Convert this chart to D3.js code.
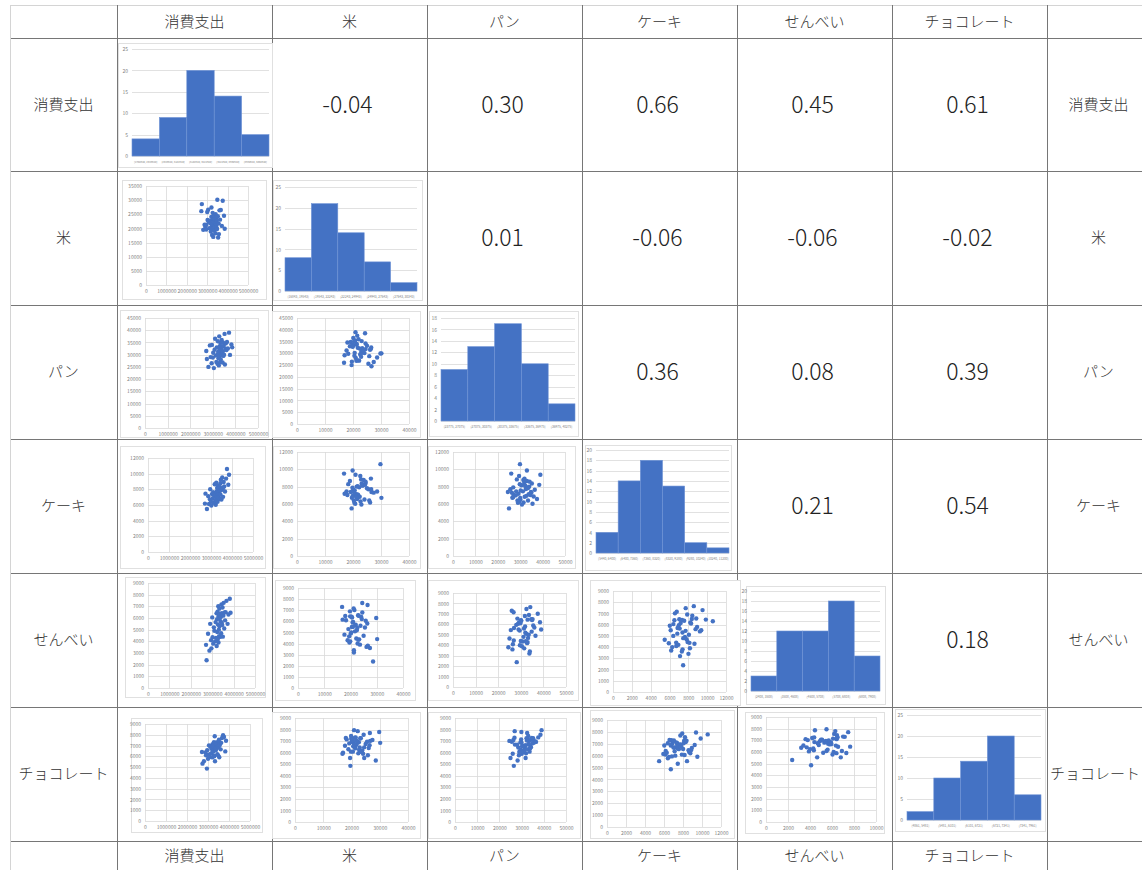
<!DOCTYPE html>
<html>
<head>
<meta charset="utf-8">
<script src="https://cdn.jsdelivr.net/npm/d3@7"></script>
<style>
  body { margin: 0; background: #fff; }
  svg { display: block; }
  text { font-family: "Noto Sans CJK JP", "Noto Sans", sans-serif; }
</style>
</head>
<body>
<svg id="matrix" width="1142" height="870"></svg>
<script>
// Household spending survey: 52 cities, annual yen per household
const variableNames = ["消費支出", "米", "パン", "ケーキ", "せんべい", "チョコレート"];

const spending = [2712000, 2738000, 2806000, 2871000, 2905000, 2948000, 2962000, 3001000, 3018000, 3047000,
  3079000, 3102000, 3137000, 3158000, 3176000, 3203000, 3209000, 3226000, 3238000, 3251000,
  3263000, 3268000, 3284000, 3293000, 3297000, 3312000, 3321000, 3334000, 3339000, 3352000,
  3364000, 3371000, 3393000, 3408000, 3417000, 3432000, 3446000, 3451000, 3468000, 3483000,
  3497000, 3521000, 3536000, 3562000, 3574000, 3603000, 3628000, 3667000, 3718000, 3761000,
  3823000, 3858000];
const rice = [26100, 28600, 19500, 21300, 20500, 19600, 21300, 25800, 23000, 26600,
  22400, 20100, 22700, 21800, 18900, 24100, 27400, 20800, 17700, 22900,
  19900, 25500, 21500, 23600, 17000, 20300, 22200, 24500, 19200, 21000,
  23300, 20600, 22000, 18300, 25000, 21200, 23800, 20400, 22600, 19800,
  30150, 24300, 16800, 21700, 18000, 26400, 23100, 26500, 20900, 29800,
  24480, 19860];
const bread = [31500, 28200, 25000, 33800, 29000, 26500, 34000, 28800, 30800, 24500,
  32000, 36500, 29600, 27000, 33000, 30100, 26300, 35500, 31200, 28500,
  32800, 25600, 37500, 30500, 29200, 33500, 26900, 31800, 34800, 28000,
  32200, 30200, 36000, 29800, 33200, 26800, 31400, 35000, 29500, 33600,
  30000, 38500, 26000, 32400, 34600, 31900, 35200, 32500, 39000, 29900,
  34200, 33000];
const cake = [6180, 7450, 5490, 7120, 6130, 6720, 8010, 6410, 5930, 7390,
  6830, 7640, 6290, 7080, 8650, 6520, 7310, 6030, 7460, 8840,
  6940, 7710, 6580, 8170, 7190, 6400, 7920, 8420, 7380, 6990,
  8120, 7560, 6860, 8290, 7810, 6770, 8770, 7330, 9230, 7880,
  6710, 8210, 9510, 8060, 7040, 8930, 8370, 7720, 9370, 10600,
  8580, 9860];
const senbei = [3700, 2380, 4650, 3200, 5500, 4100, 3400, 6050, 4350, 3800,
  5200, 4900, 4000, 5650, 4300, 6400, 3600, 5900, 4800, 6550,
  4200, 5450, 7010, 3900, 6150, 5000, 4450, 6800, 5300, 5950,
  4380, 6350, 5700, 6100, 4700, 7160, 5600, 6420, 5400, 6900,
  4400, 6200, 7300, 5100, 6480, 5800, 6500, 7470, 5500, 6300,
  7650, 6450];
const chocolate = [6400, 5320, 5540, 6370, 6090, 4860, 6560, 5780, 6150, 7020,
  5940, 6930, 6250, 6700, 6300, 5900, 7100, 6850, 6600, 6450,
  7200, 6950, 7320, 6050, 6000, 7050, 7860, 5540, 6800, 6680,
  7250, 6550, 7000, 7150, 6750, 7300, 6200, 7100, 6900, 6090,
  6850, 7550, 5910, 7050, 7280, 6650, 7250, 7700, 7950, 7790,
  6460, 7450];

// Correlation coefficients, upper triangle, row by row
const correlations = [
  ["-0.04", "0.30", "0.66", "0.45", "0.61"],
  ["0.01", "-0.06", "-0.06", "-0.02"],
  ["0.36", "0.08", "0.39"],
  ["0.21", "0.54"],
  ["0.18"]
];

// Histogram frequencies on the diagonal
const histCounts = [
  [4, 9, 20, 14, 5],
  [8, 21, 14, 7, 2],
  [9, 13, 17, 10, 3],
  [4, 14, 18, 13, 2, 1],
  [3, 12, 12, 18, 7],
  [2, 10, 14, 20, 6]
];
const histBinLabels = [
  ["[2708640, 2946640]", "(2946640, 3184640]", "(3184640, 3422640]", "(3422640, 3660640]", "(3660640, 3898640]"],
  ["[16843, 19543]", "(19543, 22243]", "(22243, 24943]", "(24943, 27643]", "(27643, 30343]"],
  ["[23775, 27075]", "(27075, 30375]", "(30375, 33675]", "(33675, 36975]", "(36975, 40275]"],
  ["[5440, 6400]", "(6400, 7360]", "(7360, 8320]", "(8320, 9280]", "(9280, 10240]", "(10240, 11200]"],
  ["[2408, 3508]", "(3508, 4608]", "(4608, 5708]", "(5708, 6808]", "(6808, 7908]"],
  ["[4861, 5481]", "(5481, 6101]", "(6101, 6721]", "(6721, 7341]", "(7341, 7961]"]
];
const histYMax = [25, 25, 18, 20, 20, 25];
const histYStep = [5, 5, 2, 2, 2, 5];

// Scatter axes: x follows the column variable, y depends on the cell
const scatterXMax = [5000000, 40000, 50000, 12000, 10000];
const scatterXStep = [1000000, 10000, 10000, 2000, 2000];
const scatterYMax = [[], [35000], [45000, 45000], [12000, 12000, 12000], [9000, 9000, 9000, 9000], [9000, 9000, 9000, 9000, 9000]];
const scatterYStep = [[], [5000], [5000, 5000], [2000, 2000, 2000], [1000, 1000, 1000, 1000], [1000, 1000, 1000, 1000, 1000]];

// ---- layout ----
const colEdges = [10, 117, 272, 427, 582, 737, 892, 1047, 1142];
const rowEdges = [5, 38, 171, 305, 439, 573, 707, 841, 870];

// chart frame and plot area for each embedded chart: [x0, y0, x1, y1]
const frames = {
  "0-0": { box: [118, 43, 272, 167], plot: [132, 49, 269, 156] },
  "1-1": { box: [273, 180, 422, 300], plot: [285, 187, 417, 291] },
  "2-2": { box: [429, 311, 578, 436], plot: [441, 318, 575, 421] },
  "3-3": { box: [585, 445, 731, 570], plot: [596, 450, 729, 553] },
  "4-4": { box: [746, 586, 885, 704], plot: [751, 591, 880, 691] },
  "5-5": { box: [895, 709, 1045, 831], plot: [907, 715, 1041, 820] },
  "1-0": { box: [122, 180, 266, 299], plot: [146, 186, 248, 285] },
  "2-0": { box: [120, 310, 268, 437], plot: [145, 318, 258, 428] },
  "2-1": { box: [272, 311, 420, 437], plot: [297, 318, 409, 424] },
  "3-0": { box: [120, 446, 265, 568], plot: [148, 458, 253, 552] },
  "3-1": { box: [273, 446, 420, 568], plot: [297, 452, 409, 556] },
  "3-2": { box: [428, 446, 575, 568], plot: [453, 452, 565, 556] },
  "4-0": { box: [125, 577, 265, 697], plot: [148, 583, 255, 688] },
  "4-1": { box: [275, 580, 415, 700], plot: [298, 588, 403, 688] },
  "4-2": { box: [428, 580, 578, 700], plot: [453, 593, 566, 687] },
  "4-3": { box: [590, 580, 740, 705], plot: [613, 591, 726, 692] },
  "5-0": { box: [131, 718, 262, 832], plot: [145, 724, 250, 821] },
  "5-1": { box: [272, 712, 420, 838], plot: [295, 718, 408, 822] },
  "5-2": { box: [428, 712, 580, 838], plot: [455, 718, 566, 822] },
  "5-3": { box: [590, 710, 734, 838], plot: [607, 720, 721, 827] },
  "5-4": { box: [745, 712, 884, 833], plot: [766, 717, 876, 822] }
};

const BLUE = "#4472c4";
const GRID = "#d9d9d9";
const TICK = "#7f7f7f";
const series = [spending, rice, bread, cake, senbei, chocolate];
const svg = d3.select("#matrix");

// ---- table grid ----
const grid = svg.append("g");
rowEdges.slice(0, -1).forEach((y, i) => {
  grid.append("line")
    .attr("x1", colEdges[0]).attr("x2", colEdges[colEdges.length - 1])
    .attr("y1", y + 0.5).attr("y2", y + 0.5)
    .attr("stroke", i === 0 ? "#d4d4d4" : "#767676").attr("stroke-width", 1);
});
colEdges.slice(0, -1).forEach((x, i) => {
  grid.append("line")
    .attr("x1", x + 0.5).attr("x2", x + 0.5)
    .attr("y1", rowEdges[0]).attr("y2", rowEdges[rowEdges.length - 1])
    .attr("stroke", i === 0 ? "#d4d4d4" : "#767676").attr("stroke-width", 1);
});

const colCenter = i => (colEdges[i] + colEdges[i + 1]) / 2;
const rowCenter = i => (rowEdges[i] + rowEdges[i + 1]) / 2;

// header / footer / side labels
const labels = svg.append("g").attr("fill", "#333").attr("font-size", 15)
  .attr("font-weight", 300).attr("text-anchor", "middle");
variableNames.forEach((name, i) => {
  labels.append("text").attr("x", colCenter(i + 1)).attr("y", rowCenter(0)).attr("dy", "0.35em").text(name);
  labels.append("text").attr("x", colCenter(i + 1)).attr("y", rowCenter(7)).attr("dy", "0.35em").text(name);
  labels.append("text").attr("x", colCenter(0)).attr("y", rowCenter(i + 1)).attr("dy", "0.35em").text(name);
});
// right-hand column labels, kept inside the right edge
variableNames.forEach((name, i) => {
  const t = labels.append("text").attr("x", colCenter(7) + 4).attr("y", rowCenter(i + 1)).attr("dy", "0.35em").text(name);
  const w = t.node().getComputedTextLength();
  const right = colCenter(7) + 4 + w / 2;
  if (right > 1140) t.attr("x", 1140 - w / 2);
});

// correlation coefficients
correlations.forEach((row, r) => {
  row.forEach((v, k) => {
    const c = r + 1 + k;
    svg.append("text")
      .attr("x", colCenter(c + 1) - 2).attr("y", rowCenter(r + 1))
      .attr("dy", "0.36em").attr("text-anchor", "middle")
      .attr("font-size", 23).attr("font-weight", 300).attr("fill", "#222")
      .text(v);
  });
});

function frameRect(g, f) {
  g.append("rect")
    .attr("x", f.box[0] + 0.5).attr("y", f.box[1] + 0.5)
    .attr("width", f.box[2] - f.box[0]).attr("height", f.box[3] - f.box[1])
    .attr("fill", "#fff").attr("stroke", "#e0e0e0").attr("stroke-width", 1);
}

const tickFont = s => s.selectAll("text").attr("font-size", 5).attr("fill", TICK)
  .attr("font-family", "'Liberation Sans', sans-serif");

// ---- histograms on the diagonal ----
function drawHistogram(i) {
  const f = frames[i + "-" + i];
  const g = svg.append("g");
  frameRect(g, f);
  const counts = histCounts[i];
  const x = d3.scaleBand().domain(d3.range(counts.length)).range([f.plot[0], f.plot[2]]).padding(0);
  const y = d3.scaleLinear().domain([0, histYMax[i]]).range([f.plot[3], f.plot[1]]);
  const ticks = d3.range(0, histYMax[i] + 0.001, histYStep[i]);

  g.append("g").selectAll("line").data(ticks).join("line")
    .attr("x1", f.plot[0]).attr("x2", f.plot[2])
    .attr("y1", d => Math.round(y(d)) + 0.5).attr("y2", d => Math.round(y(d)) + 0.5)
    .attr("stroke", GRID).attr("stroke-width", 0.8);

  g.append("g").selectAll("rect").data(counts).join("rect")
    .attr("x", (d, k) => x(k)).attr("width", x.bandwidth())
    .attr("y", d => y(d)).attr("height", d => y(0) - y(d))
    .attr("fill", BLUE).attr("stroke", "#6f93d6").attr("stroke-width", 0.6);

  g.append("g").attr("transform", `translate(${f.plot[0]},0)`)
    .call(d3.axisLeft(y).tickValues(ticks).tickSize(0).tickPadding(4))
    .call(s => s.select(".domain").remove())
    .call(tickFont);

  g.append("g").selectAll("text").data(histBinLabels[i]).join("text")
    .attr("x", (d, k) => x(k) + x.bandwidth() / 2).attr("y", f.plot[3] + 7)
    .attr("text-anchor", "middle").attr("font-size", i === 0 ? 2.6 : 3.2).attr("fill", TICK)
    .attr("font-family", "'Liberation Sans', sans-serif")
    .text(d => d);
}

// ---- scatter plots below the diagonal ----
function drawScatter(r, c) {
  const f = frames[r + "-" + c];
  const g = svg.append("g");
  frameRect(g, f);
  const yMax = scatterYMax[r][c], yStep = scatterYStep[r][c];
  const x = d3.scaleLinear().domain([0, scatterXMax[c]]).range([f.plot[0], f.plot[2]]);
  const y = d3.scaleLinear().domain([0, yMax]).range([f.plot[3], f.plot[1]]);
  const xt = d3.range(0, scatterXMax[c] + 1, scatterXStep[c]);
  const yt = d3.range(0, yMax + 1, yStep);

  g.append("g").selectAll("line").data(xt).join("line")
    .attr("x1", d => Math.round(x(d)) + 0.5).attr("x2", d => Math.round(x(d)) + 0.5)
    .attr("y1", f.plot[1]).attr("y2", f.plot[3])
    .attr("stroke", GRID).attr("stroke-width", 0.8);
  g.append("g").selectAll("line").data(yt).join("line")
    .attr("x1", f.plot[0]).attr("x2", f.plot[2])
    .attr("y1", d => Math.round(y(d)) + 0.5).attr("y2", d => Math.round(y(d)) + 0.5)
    .attr("stroke", GRID).attr("stroke-width", 0.8);

  g.append("g").attr("transform", `translate(${f.plot[0]},0)`)
    .call(d3.axisLeft(y).tickValues(yt).tickSize(0).tickPadding(4).tickFormat(d3.format("d")))
    .call(s => s.select(".domain").remove()).call(tickFont);
  g.append("g").attr("transform", `translate(0,${f.plot[3]})`)
    .call(d3.axisBottom(x).tickValues(xt).tickSize(0).tickPadding(4).tickFormat(d3.format("d")))
    .call(s => s.select(".domain").remove()).call(tickFont);

  const pts = d3.range(spending.length).map(k => [series[c][k], series[r][k]]);
  g.append("g").selectAll("circle").data(pts).join("circle")
    .attr("cx", d => x(d[0])).attr("cy", d => y(d[1])).attr("r", 2.2)
    .attr("fill", BLUE);
}

for (let i = 0; i < 6; i++) drawHistogram(i);
for (let r = 1; r < 6; r++) for (let c = 0; c < r; c++) drawScatter(r, c);
</script>
</body>
</html>
